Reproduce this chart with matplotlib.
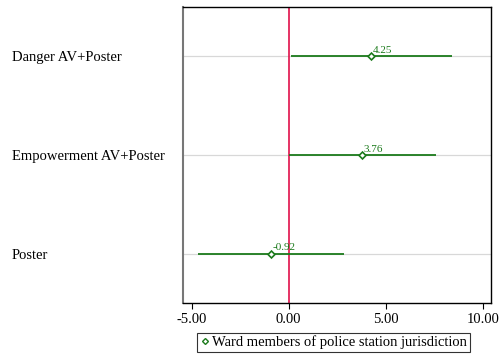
import matplotlib
matplotlib.use("Agg")
import matplotlib.pyplot as plt
from matplotlib.lines import Line2D

categories = ["Poster", "Empowerment AV+Poster", "Danger AV+Poster"]
estimates = [-0.92, 3.76, 4.25]
ci_low = [-4.67, 0.0, 0.1]
ci_high = [2.83, 7.6, 8.42]
xticks = [-5, 0, 5, 10]
xticklabels = ["-5.00", "0.00", "5.00", "10.00"]
legend_label = "Ward members of police station jurisdiction"

plt.rcParams['font.family'] = ['Liberation Serif', 'DejaVu Serif']
green = "#1b7a1b"
red = "#e0104a"

fig = plt.figure(figsize=(4.99, 3.56), dpi=100)
ax = fig.add_axes([183/499, 1-303/356, (491-183)/499, (303-7)/356])

ypos = list(range(1, len(categories)+1))
for y in ypos:
    ax.axhline(y, color="#d8d8d8", lw=0.9, zorder=0)
ax.axvline(0, color=red, lw=1.2, zorder=1)
ax.hlines(ypos, ci_low, ci_high, color=green, lw=1.3, zorder=2)
ax.plot(estimates, ypos, linestyle="none", marker="D", markersize=3.5,
        markerfacecolor="white", markeredgecolor=green, markeredgewidth=1.2, zorder=3)
for x, y in zip(estimates, ypos):
    ax.annotate(f"{x:.2f}", (x, y), xytext=(1.5, 1.0), textcoords="offset points",
                color=green, fontsize=8, ha="left", va="bottom")

ax.set_xlim(-5.45, 10.43)
ax.set_ylim(0.5, 3.5)
ax.set_xticks(xticks)
ax.set_xticklabels(xticklabels, fontsize=10.5)
ax.set_yticks(ypos)
ax.set_yticklabels(categories, fontsize=10.5)
for lab in ax.get_yticklabels():
    lab.set_horizontalalignment("left")
ax.tick_params(axis="y", length=0, pad=171*0.72)
ax.tick_params(axis="x", length=4, width=0.8, direction="out", pad=3)
for s in ["top", "right", "bottom"]:
    ax.spines[s].set_color("black")
    ax.spines[s].set_linewidth(1.0)
ax.spines["left"].set_color("#777777")
ax.spines["left"].set_linewidth(1.5)

handle = Line2D([], [], linestyle="none", marker="D", markersize=3,
                markerfacecolor="white", markeredgecolor=green, markeredgewidth=1.0)
leg = fig.legend([handle], [legend_label], loc="center",
                 bbox_to_anchor=(333.5/499, 1-342.5/356), fontsize=10.5,
                 frameon=True, fancybox=False, handlelength=0.6, handletextpad=0.2,
                 borderpad=0.2, borderaxespad=0)
leg.get_frame().set_edgecolor("black")
leg.get_frame().set_linewidth(0.8)

fig.savefig("out.png", dpi=100)
